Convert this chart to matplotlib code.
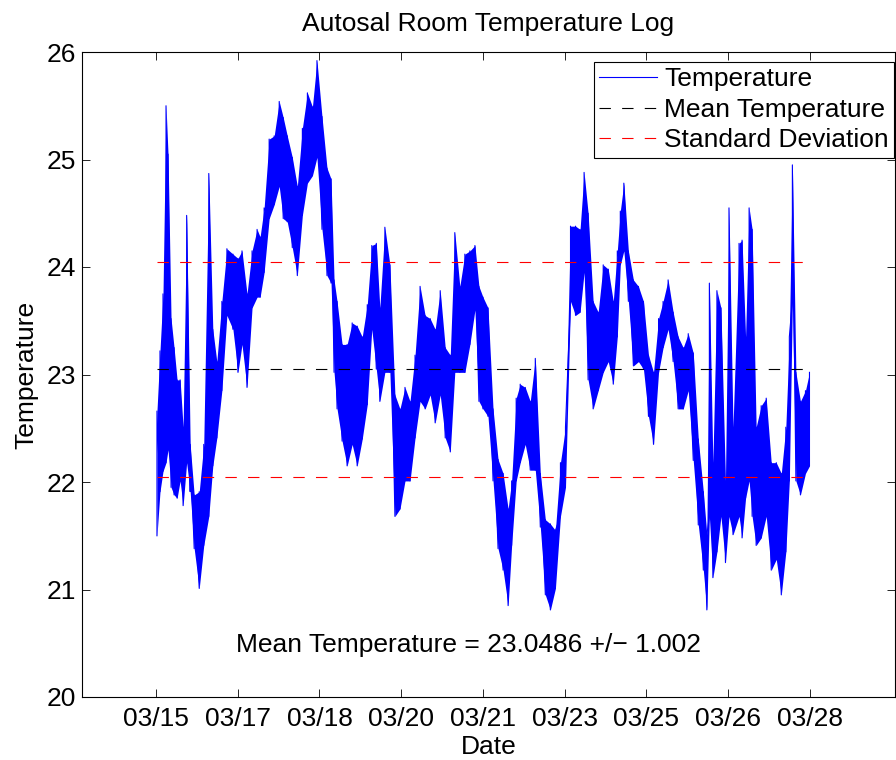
import numpy as np
import matplotlib
matplotlib.use('Agg')
import matplotlib.pyplot as plt

############ data (day of March, lower / upper envelope of the trace)

day = [15.02, 15.08, 15.14, 15.20, 15.24, 15.30, 15.36, 15.42, 15.48, 15.54,
       15.61, 15.68, 15.76, 15.86, 15.95, 16.05, 16.13, 16.21, 16.31, 16.41,
       16.53, 16.63, 16.71, 16.81, 16.91, 17.01, 17.07, 17.15, 17.25, 17.35,
       17.45, 17.53, 17.61, 17.71, 17.81, 17.91, 18.01, 18.11, 18.20, 18.30,
       18.40, 18.48, 18.54, 18.60, 18.70, 18.80, 18.90, 19.00, 19.10, 19.20,
       19.29, 19.38, 19.45, 19.55, 19.65, 19.75, 19.85, 19.95, 20.05, 20.15,
       20.25, 20.35, 20.45, 20.55, 20.65, 20.75, 20.85, 20.94, 21.04, 21.14,
       21.24, 21.34, 21.42, 21.50, 21.60, 21.70, 21.80, 21.90, 22.00, 22.07,
       22.16, 22.24, 22.34, 22.44, 22.54, 22.64, 22.74, 22.84, 22.94, 23.04,
       23.14, 23.24, 23.34, 23.43, 23.51, 23.59, 23.69, 23.79, 23.89, 23.99,
       24.09, 24.17, 24.23, 24.30, 24.39, 24.49, 24.59, 24.69, 24.79, 24.89,
       24.99, 25.08, 25.18, 25.28, 25.38, 25.48, 25.58, 25.68, 25.78, 25.88,
       25.95, 26.00, 26.07, 26.15, 26.23, 26.32, 26.39, 26.47, 26.59, 26.65,
       26.72, 26.79, 26.85, 26.93, 27.03, 27.13, 27.23, 27.33, 27.43, 27.52,
       27.59, 27.65, 27.72, 27.81, 27.91, 27.99]

t_lo = [21.50, 21.91, 22.10, 22.18, 22.30, 21.95, 21.88, 21.85, 22.01, 21.78,
        22.18, 21.91, 21.38, 21.01, 21.41, 21.68, 22.15, 22.41, 22.85, 23.55,
        23.42, 23.02, 23.28, 22.88, 23.62, 23.72, 23.72, 23.95, 24.45, 24.58,
        24.75, 24.45, 24.42, 24.18, 23.92, 24.48, 24.78, 24.85, 25.02, 24.35,
        23.92, 23.85, 23.02, 22.68, 22.38, 22.15, 22.35, 22.15, 22.40, 22.72,
        23.42, 23.05, 22.75, 23.02, 23.02, 21.68, 21.75, 22.01, 22.01, 22.41,
        22.75, 22.68, 22.81, 22.55, 22.81, 22.41, 22.28, 23.02, 23.02, 23.02,
        23.28, 23.60, 22.75, 22.68, 22.61, 22.01, 21.38, 21.18, 20.85, 21.41,
        22.01, 22.18, 22.35, 22.11, 22.11, 21.58, 20.95, 20.81, 21.01, 21.68,
        21.95, 23.68, 23.55, 23.58, 23.95, 22.95, 22.68, 22.85, 23.02, 23.12,
        22.91, 23.35, 24.02, 24.15, 23.68, 23.08, 23.12, 23.05, 22.61, 22.35,
        23.02, 23.25, 23.42, 23.12, 22.68, 22.68, 22.85, 22.20, 21.60, 21.18,
        20.81, 21.68, 21.11, 21.35, 21.68, 21.25, 21.68, 21.51, 21.68, 21.48,
        21.85, 22.01, 21.68, 21.41, 21.48, 21.68, 21.18, 21.28, 20.95, 21.35,
        22.01, 23.68, 22.01, 21.88, 22.08, 22.15]

t_hi = [22.66, 23.22, 23.75, 25.50, 25.05, 23.52, 23.25, 22.95, 22.95, 22.51,
        24.48, 22.35, 21.88, 21.91, 22.35, 24.87, 23.42, 23.12, 23.68, 24.17,
        24.12, 24.08, 24.15, 23.75, 24.15, 24.35, 24.28, 24.55, 25.19, 25.22,
        25.54, 25.39, 25.22, 25.02, 24.75, 25.29, 25.62, 25.49, 25.92, 25.40,
        24.92, 24.82, 23.88, 23.68, 23.28, 23.28, 23.48, 23.45, 23.35, 23.65,
        24.20, 24.22, 23.62, 24.37, 24.02, 22.81, 22.68, 22.88, 22.75, 23.18,
        23.82, 23.55, 23.52, 23.42, 23.78, 23.25, 23.18, 24.32, 23.82, 24.12,
        24.15, 24.20, 23.82, 23.72, 23.62, 22.68, 22.21, 22.08, 21.75, 22.01,
        22.78, 22.91, 22.88, 22.75, 23.15, 22.08, 21.65, 21.61, 21.55, 22.18,
        22.51, 24.38, 24.38, 24.35, 24.88, 24.50, 23.68, 23.58, 24.02, 23.98,
        23.68, 24.15, 24.52, 24.78, 24.15, 23.88, 23.82, 23.68, 23.18, 23.02,
        23.52, 23.68, 23.88, 23.58, 23.35, 23.25, 23.38, 23.20, 22.40, 21.91,
        21.51, 23.85, 22.18, 23.78, 23.62, 22.01, 24.55, 22.51, 24.22, 24.25,
        23.35, 24.55, 24.35, 22.51, 22.71, 22.78, 22.18, 22.18, 22.08, 22.51,
        23.35, 24.95, 23.02, 22.75, 22.85, 23.02]

mean_t = 23.0486
std_t = 1.002

tick_lab = ['03/15', '03/17', '03/18', '03/20', '03/21', '03/23', '03/25', '03/26', '03/28']

############ figure

plt.rcParams['font.family'] = ['Liberation Sans', 'DejaVu Sans']
plt.rcParams['font.size'] = 19
plt.rcParams['lines.scale_dashes'] = False
plt.rcParams['axes.linewidth'] = 0.8

fig = plt.figure(figsize=(8.96, 7.6), dpi=100)
ax = fig.add_axes([82/896, 63/760, 813/896, 645/760])

# trace: band between envelopes plus the zigzag line through them
xs = np.repeat(day, 2)
ys = np.column_stack([t_lo, t_hi]).ravel()
ax.fill_between(day, t_lo, t_hi, color='b', lw=0)
ax.plot(xs, ys, color='b', lw=0.8, label='Temperature')

x0, x1 = day[0], day[-1]
ax.plot([x0, x1], [mean_t, mean_t], color='k', lw=0.8, dashes=(8.2, 8.1), label='Mean Temperature')
ax.plot([x0, x1], [mean_t + std_t] * 2, color='r', lw=0.8, dashes=(8.2, 8.1), label='Standard Deviation')
ax.plot([x0, x1], [mean_t - std_t] * 2, color='r', lw=0.8, dashes=(8.2, 8.1))

ax.set_xlim(13.53, 29.69)
ax.set_ylim(20, 26)
ax.set_xticks(np.linspace(15, 28, len(tick_lab)))
ax.set_xticklabels(tick_lab)
ax.set_yticks(range(20, 27))
ax.tick_params(direction='in', length=5.8, width=0.6, top=True, right=True)
ax.tick_params(axis='x', pad=7)
ax.tick_params(axis='y', pad=4)

ax.set_title('Autosal Room Temperature Log', fontsize=19, pad=15)
ax.set_xlabel('Date', labelpad=3)
ax.set_ylabel('Temperature', labelpad=6)

ax.text(16.59, 20.48, 'Mean Temperature = %s +/\u2212 %s' % (mean_t, std_t), va='center', ha='left')

leg = ax.legend(loc='upper right', bbox_to_anchor=(0.9985, 0.9845), borderaxespad=0,
                fancybox=False, framealpha=1, edgecolor='k', handlelength=2.2,
                handletextpad=0.25, labelspacing=0.25, borderpad=0.2)
leg.get_frame().set_linewidth(0.8)

fig.savefig('out.png', dpi=100)
